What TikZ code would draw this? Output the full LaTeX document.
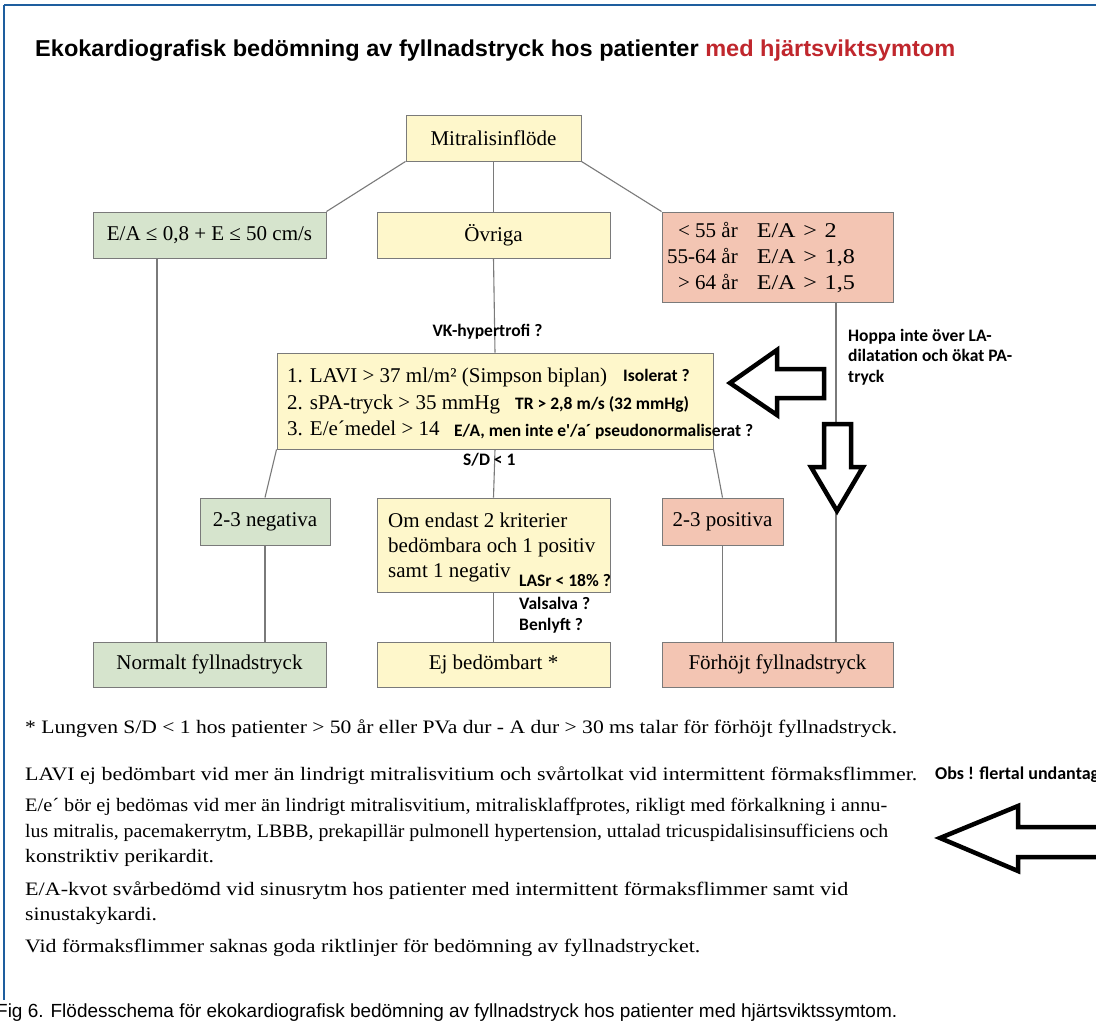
\documentclass[tikz,border=0pt]{standalone}
\usepackage{fontspec}
\setmainfont{Liberation Serif}
\newfontfamily\annfont{Carlito}
\newfontfamily\titlefont{Liberation Sans}
\usepackage{array}
\definecolor{boxyel}{HTML}{FEF7CB}
\definecolor{boxgrn}{HTML}{D6E4CD}
\definecolor{boxred}{HTML}{F3C5B3}
\definecolor{linegray}{HTML}{7A7A7A}
\definecolor{frameblue}{HTML}{1E5E9E}
\definecolor{titlered}{HTML}{C0272D}
\tikzset{
  fbox/.style={draw=linegray, line width=0.9pt, inner sep=0pt, font=\fontsize{21}{26}\selectfont},
  yel/.style={fbox, fill=boxyel},
  grn/.style={fbox, fill=boxgrn},
  red/.style={fbox, fill=boxred},
  conn/.style={draw=linegray, line width=1.1pt},
  btext/.style={anchor=base west, inner sep=0pt, font=\fontsize{21}{26}\selectfont},
  ann/.style={font=\annfont\bfseries\fontsize{17.5}{20.5}\selectfont, inner sep=0pt, align=left},
  foot/.style={font=\fontsize{19}{24}\selectfont, inner sep=0pt, anchor=base west},
  hollow/.style={draw=black, line width=4.5pt, fill=white, line join=miter},
}
\newcommand{\fitw}[2]{\resizebox{#1}{\height}{#2}}
\newcommand{\wdr}[1]{\scalebox{1.14}[1]{#1}}
\newcommand{\eaw}[1]{\scalebox{1.15}[1]{E/A\hspace{0.32em}>\hspace{0.32em}#1}}
\begin{document}
\begin{tikzpicture}[x=1pt,y=-1pt]
\useasboundingbox (0,0) rectangle (1096,1022);
\clip (0,0) rectangle (1096,1022);
\fill[white] (0,0) rectangle (1096,1022);
% frame
\draw[frameblue, line width=2.5pt] (4,5) -- (1096,5);
\draw[frameblue, line width=1.5pt] (4,5) -- (4,1000);
% title
\node[anchor=base west, inner sep=0pt, font=\titlefont\bfseries\fontsize{23}{26}\selectfont] (title) at (35,57)
  {\fitw{920pt}{Ekokardiografisk bedömning av fyllnadstryck hos patienter \textcolor{titlered}{med hjärtsviktsymtom}}};
% boxes
\node[yel, minimum width=175pt, minimum height=46pt] (mit) at (493.5,138) {Mitralisinflöde};
\node[grn, minimum width=233pt, minimum height=46pt] (ea) at (209.5,235) {E/A ≤ 0,8 + E ≤ 50 cm/s};
\node[yel, minimum width=233pt, minimum height=46pt] (ovr) at (493.5,235) {Övriga};
\node[red, minimum width=231pt, minimum height=90pt] (age) at (777.5,257) {};
\node[anchor=west, inner sep=0pt, font=\fontsize{21}{26}\selectfont] (agetxt) at (667,258)
  {\begin{tabular}{@{}r@{\hspace{19pt}}l@{}}< 55 år & \eaw{2}\\ 55-64 år & \eaw{1,8}\\ > 64 år & \eaw{1,5}\end{tabular}};
\node[yel, minimum width=436pt, minimum height=96pt] (crit) at (495,401) {};
\node[grn, minimum width=130pt, minimum height=47pt] (neg) at (265,521.5) {2-3 negativa};
\node[yel, minimum width=233pt, minimum height=94pt] (om) at (493.5,545) {};
\node[red, minimum width=121pt, minimum height=47pt] (pos) at (722.5,521.5) {2-3 positiva};
\node[grn, minimum width=233pt, minimum height=45pt] (nor) at (209.5,664.5) {Normalt fyllnadstryck};
\node[yel, minimum width=233pt, minimum height=45pt] (ej) at (493.5,664.5) {Ej bedömbart *};
\node[red, minimum width=231pt, minimum height=45pt] (for) at (777.5,664.5) {Förhöjt fyllnadstryck};
% box texts
\node[btext] (c1) at (287,382) {1. LAVI > 37 ml/m² (Simpson biplan)};
\node[btext] (c2) at (287,409) {2. sPA-tryck > 35 mmHg};
\node[btext] (c3) at (287,435) {3. E/e´medel > 14};
\node[btext] (o1) at (388,527) {Om endast 2 kriterier};
\node[btext] (o2) at (388,552) {bedömbara och 1 positiv};
\node[btext] (o3) at (388,577) {samt 1 negativ};
% connectors
\draw[conn] (mit.south west) -- (ea.north east);
\draw[conn] (mit.south) -- (ovr.north);
\draw[conn] (mit.south east) -- (age.north west);
\draw[conn] (ovr.south) -- (crit.north);
\draw[conn] (crit.south west) -- (neg.north);
\draw[conn] (crit.south) -- (om.north);
\draw[conn] (crit.south east) -- (pos.north);
\draw[conn] (ea.south -| 157,0) -- (nor.north -| 157,0);
\draw[conn] (neg.south) -- (nor.north -| neg.south);
\draw[conn] (om.south) -- (ej.north);
\draw[conn] (pos.south) -- (for.north -| pos.south);
\draw[conn] (age.south -| 836,0) -- (for.north -| 836,0);
% annotations
\node[ann, anchor=base] (vk) at (487.5,336) {VK-hypertrofi ?};
\node[ann, anchor=base west] (iso) at (623,381) {Isolerat ?};
\node[ann, anchor=base west] (tr) at (515,409) {TR > 2,8 m/s (32 mmHg)};
\node[ann, anchor=base west] (ea2) at (454,436) {E/A, men inte e'/a´ pseudonormaliserat ?};
\node[ann, anchor=base west] (sd) at (463,465) {S/D < 1};
\node[ann, anchor=base west] (las) at (519,586) {LASr < 18\% ?};
\node[ann, anchor=base west] (val) at (519,609) {Valsalva ?};
\node[ann, anchor=base west] (ben) at (519,630) {Benlyft ?};
\node[ann, anchor=base west] (hop) at (848,382) {Hoppa inte över LA-\\dilatation och ökat PA-\\tryck};
\node[ann, anchor=base west, font=\annfont\bfseries\fontsize{18}{20}\selectfont] (obs) at (935,779) {Obs ! flertal undantag};
% hollow arrows
\draw[hollow] (730,383) -- (777,350) -- (777,369) -- (824,369) -- (824,398) -- (777,398) -- (777,415) -- cycle;
\draw[hollow] (824,424) -- (851,424) -- (851,467) -- (863,467) -- (837,511) -- (811,467) -- (824,467) -- cycle;
\draw[hollow] (940,838) -- (1018,806) -- (1018,827) -- (1110,827) -- (1110,857) -- (1018,857) -- (1018,871) -- cycle;
% footnotes
\node[foot] (f1) at (25,733) {\fitw{872pt}{* Lungven S/D < 1 hos patienter > 50 år eller PVa dur - A dur > 30 ms talar för förhöjt fyllnadstryck.}};
\node[foot] (f2) at (25,780) {\fitw{892pt}{LAVI ej bedömbart vid mer än lindrigt mitralisvitium och svårtolkat vid intermittent förmaksflimmer.}};
\node[foot] (f3) at (25,811) {\fitw{862pt}{E/e´ bör ej bedömas vid mer än lindrigt mitralisvitium, mitralisklaffprotes, rikligt med förkalkning i annu-}};
\node[foot] (f4) at (25,837) {\fitw{863pt}{lus mitralis, pacemakerrytm, LBBB, prekapillär pulmonell hypertension, uttalad tricuspidalisinsufficiens och}};
\node[foot] (f5) at (25,862) {\wdr{konstriktiv perikardit.}};
\node[foot] (f6) at (25,895) {\fitw{823pt}{E/A-kvot svårbedömd vid sinusrytm hos patienter med intermittent förmaksflimmer samt vid}};
\node[foot] (f7) at (25,920) {\wdr{sinustakykardi.}};
\node[foot] (f8) at (25,952) {\fitw{675pt}{Vid förmaksflimmer saknas goda riktlinjer för bedömning av fyllnadstrycket.}};
\node[anchor=base west, inner sep=0pt, font=\titlefont\fontsize{19}{22}\selectfont] (cap) at (-4,1017)
  {\fitw{901pt}{Fig 6. Flödesschema för ekokardiografisk bedömning av fyllnadstryck hos patienter med hjärtsviktssymtom.}};
\end{tikzpicture}
\end{document}
